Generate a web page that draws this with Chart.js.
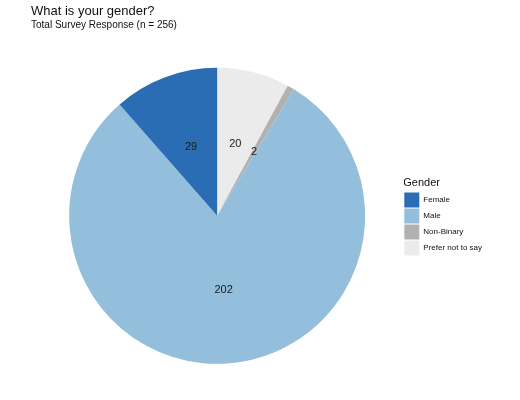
<!DOCTYPE html>
<html>
<head>
<meta charset="utf-8">
<script src="https://cdn.jsdelivr.net/npm/chart.js@4.4.0/dist/chart.umd.min.js"></script>
<style>
  html, body { margin: 0; padding: 0; background: #fff; }
  #wrap { width: 520px; height: 400px; }
</style>
</head>
<body>
<div id="wrap"><canvas id="canvas-gender"></canvas></div>
<script>
var genders = ['Female', 'Male', 'Non-Binary', 'Prefer not to say'];
var counts = [29, 202, 2, 20];
var colors = ['#2b6db4', '#93bfdc', '#b1b1b1', '#ebebeb'];

// the reference runs counter-clockwise from 12 o'clock, chart.js runs clockwise,
// so feed the slices in reverse and flip the legend back
var drawLabels = genders.slice().reverse();
var drawCounts = counts.slice().reverse();
var drawColors = colors.slice().reverse();

var sliceLabels = {
    id: 'sliceLabels',
    afterDatasetsDraw: function (chart) {
        var ctx = chart.ctx;
        var meta = chart.getDatasetMeta(0);
        ctx.save();
        ctx.font = '11px "Liberation Sans", Arial, sans-serif';
        ctx.fillStyle = '#1a1a1a';
        ctx.textAlign = 'center';
        ctx.textBaseline = 'middle';
        meta.data.forEach(function (arc, index) {
            var p = arc.getCenterPoint();
            ctx.fillText(String(chart.data.datasets[0].data[index]), p.x, p.y);
        });
        ctx.restore();
    }
};

var config = {
    type: 'pie',
    data: {
        labels: drawLabels,
        datasets: [{
            data: drawCounts,
            backgroundColor: drawColors,
            borderWidth: 0,
            radius: 148
        }]
    },
    options: {
        responsive: true,
        maintainAspectRatio: false,
        animation: false,
        layout: {
            padding: { left: 31, right: 28, top: 0, bottom: 10 }
        },
        plugins: {
            title: {
                display: true,
                text: 'What is your gender?',
                align: 'start',
                color: '#111',
                font: { family: '"Liberation Sans", Arial, sans-serif', size: 13, weight: 'normal' },
                padding: { top: 4, bottom: 0 }
            },
            subtitle: {
                display: true,
                text: 'Total Survey Response (n = 256)',
                align: 'start',
                color: '#111',
                font: { family: '"Liberation Sans", Arial, sans-serif', size: 10 },
                padding: { top: 0, bottom: 10 }
            },
            legend: {
                position: 'right',
                reverse: true,
                title: {
                    display: true,
                    text: 'Gender',
                    position: 'start',
                    color: '#111',
                    font: { family: '"Liberation Sans", Arial, sans-serif', size: 11 },
                    padding: { top: 44, bottom: 1 }
                },
                labels: {
                    boxWidth: 15,
                    boxHeight: 15,
                    padding: 1,
                    color: '#111',
                    font: { family: '"Liberation Sans", Arial, sans-serif', size: 8 }
                }
            },
            tooltip: { enabled: false }
        }
    },
    plugins: [sliceLabels]
};

var ctx = document.getElementById('canvas-gender');
window.genderPie = new Chart(ctx, config);
</script>
</body>
</html>
